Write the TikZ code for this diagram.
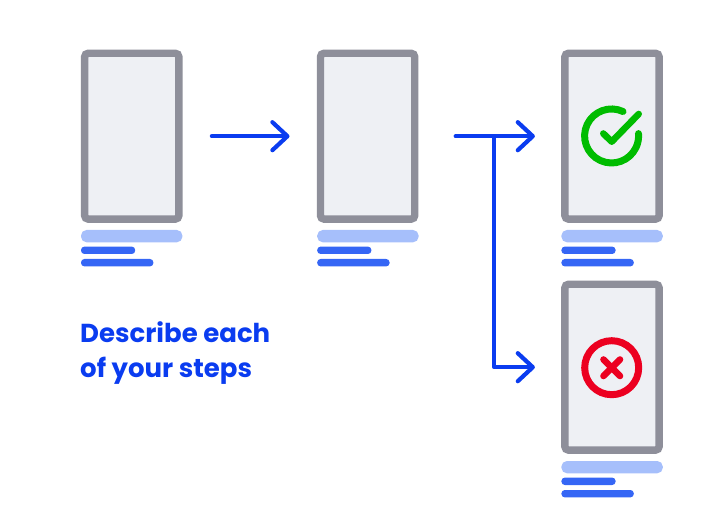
\documentclass[tikz,border=0pt]{standalone}
\usepackage{fontspec}
\setmainfont{Poppins}
\usetikzlibrary{arrows.meta}
\definecolor{framegray}{HTML}{8E8F9A}
\definecolor{screenfill}{HTML}{EEF0F4}
\definecolor{barlight}{HTML}{A6BFFB}
\definecolor{bardark}{HTML}{3566F5}
\definecolor{flowblue}{HTML}{0A3CF0}
\definecolor{okgreen}{HTML}{00BC00}
\definecolor{badred}{HTML}{EC0020}
\tikzset{
  phone/.style={draw=framegray,fill=screenfill,line width=7.4pt,rounded corners=3.5pt,
    minimum width=94.2pt,minimum height=165.8pt,inner sep=0pt,outer sep=0pt},
  flow/.style={draw=flowblue,line width=4.2pt,line cap=round,line join=round,
    -{Straight Barb[length=15pt,width=28pt,line cap=round,line join=round]}},
  baselight/.style={fill=barlight,rounded corners=5.5pt},
  basedark/.style={fill=bardark,rounded corners=3.4pt},
  okmark/.style={draw=okgreen,line width=7pt,line cap=round,line join=round},
  badmark/.style={draw=badred,line width=7pt,line cap=round},
  caption/.style={text=flowblue,font=\fontsize{26}{35}\selectfont\bfseries,align=left,anchor=north west,inner sep=0pt}
}
\begin{document}
\begin{tikzpicture}[x=1pt,y=-1pt]
\useasboundingbox (0,0) rectangle (704,521);
\node[phone] (p1) at (131.75,136.2) {};
\node[phone] (p2) at (367.6,136.2) {};
\node[phone] (p3) at (612,136.2) {};
\node[phone] (p4) at (612,367.2) {};
\coordinate (junction) at (494.3,136.2);
% description bars
\foreach \x/\y in {81/230,317.2/230,561.4/230,561.4/461}{
  \fill[baselight] (\x,\y) rectangle ++(101.4,12.3);
  \fill[basedark] (\x,\y+16.6) rectangle ++(54.2,7.4);
  \fill[basedark] (\x,\y+29) rectangle ++(72.4,7.4);
}
% connectors
\draw[flow,shorten <=33pt,shorten >=31pt] (p1.east) -- (p2.west);
\draw[flow,shorten <=41pt,shorten >=30pt] (p2.east) -- (p3.west);
\draw[flow,shorten >=30pt] (junction) |- (p4.west);
% status icons
\draw[okmark] (623,111.5) arc[start angle=-65,end angle=-365,radius=27];
\draw[okmark,line width=6.6pt] (603.3,133.5) -- (611.7,141.7) -- (638.7,114);
\draw[badmark] (611.7,367.7) circle[radius=27];
\draw[badmark,line width=6.6pt] (603.5,359.5) -- (620,376);
\draw[badmark,line width=6.6pt] (620,359.5) -- (603.5,376);
\node[caption] (cap) at (80,321.7) {Describe each\\of your steps};
\end{tikzpicture}
\end{document}
